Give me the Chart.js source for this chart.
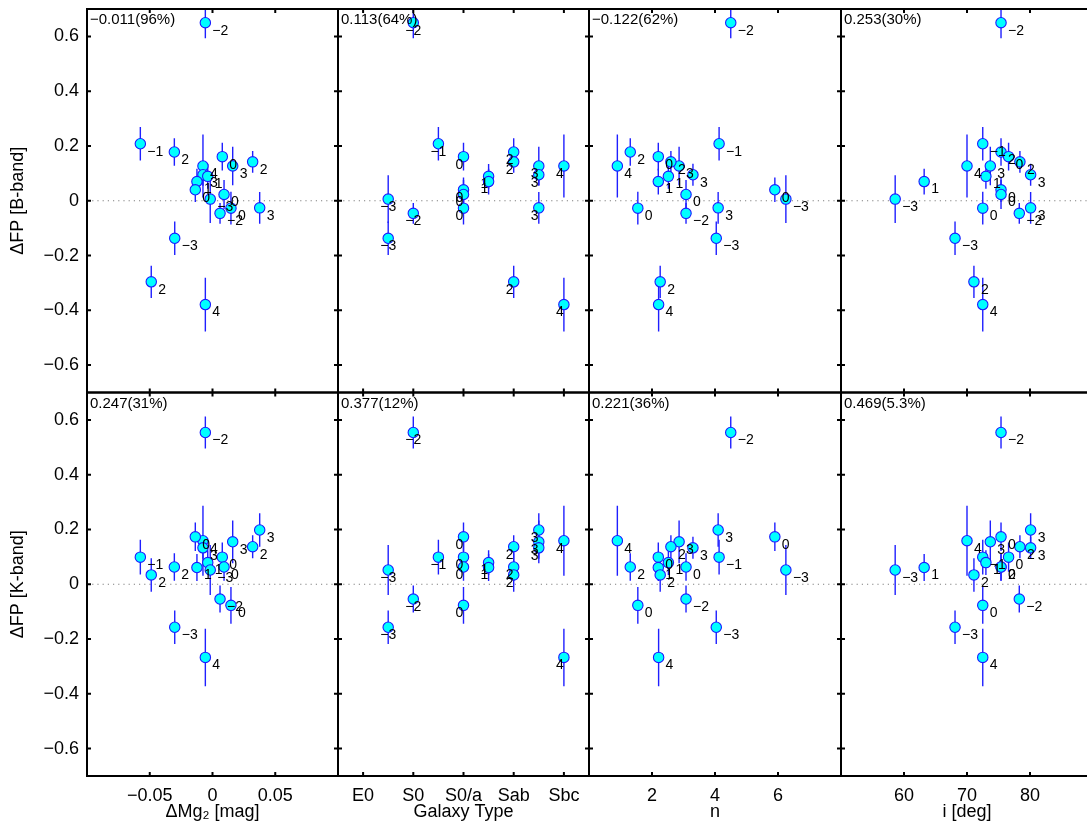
<!DOCTYPE html>
<html>
<head>
<meta charset="UTF-8">
<title>FP residuals vs galaxy properties</title>
<script src="https://cdn.jsdelivr.net/npm/chart.js"></script>
<style>
  html, body { margin: 0; padding: 0; background: #fff; overflow: hidden; }
  #wrap { position: relative; width: 1087px; height: 834px; overflow: hidden; }
  #wrap canvas { position: absolute; left: 0; top: 0; }
</style>
</head>
<body>
<div id="wrap"></div>
<script>
// one entry per galaxy (same order in every array)
const galaxyType  = [-2, -1, 2, 0, 3, 2, 4, 3, 1, 1, 0, -3, 0, -2, 0, 3, -3, 2, 4];
const deltaMg2    = [-0.0057, -0.0575, -0.0304, 0.0078, 0.0161, 0.032, -0.0076, -0.0076, -0.0038, -0.0124,
                     -0.0137, -0.0018, 0.0092, 0.006, 0.0147, 0.0376, -0.0301, -0.0488, -0.0057];
const sersicN     = [4.50, 4.13, 1.31, 2.20, 2.86, 2.60, 0.90, 3.30, 2.52, 2.20,
                     5.90, 6.25, 3.08, 3.08, 1.55, 4.10, 4.04, 2.26, 2.21];
const inclination = [75.4, 72.5, 75.4, 76.6, 73.7, 78.4, 70.0, 80.1, 73.0, 63.2,
                     75.4, 58.6, 75.4, 78.3, 72.5, 80.1, 68.1, 71.1, 72.5];
const dfpB = [0.650, 0.208, 0.178, 0.161, 0.127, 0.142, 0.127, 0.095, 0.089, 0.070,
              0.040, 0.006, 0.023, -0.046, -0.027, -0.026, -0.137, -0.296, -0.379];
const errB = [0.057, 0.061, 0.050, 0.051, 0.070, 0.040, 0.115, 0.040, 0.045, 0.047,
              0.045, 0.087, 0.053, 0.038, 0.060, 0.058, 0.061, 0.059, 0.098];
const dfpK = [0.554, 0.099, 0.063, 0.099, 0.155, 0.137, 0.159, 0.133, 0.079, 0.061,
              0.173, 0.052, 0.063, -0.054, -0.077, 0.198, -0.157, 0.034, -0.267];
const errK = [0.058, 0.063, 0.050, 0.053, 0.078, 0.042, 0.128, 0.040, 0.045, 0.049,
              0.052, 0.091, 0.050, 0.049, 0.067, 0.061, 0.061, 0.061, 0.105];

const typeTickValues = [-4, -2, 0, 2, 4];
const typeTickLabels = ['E0', 'S0', 'S0/a', 'Sab', 'Sbc'];
const mgTicks = [-0.05, 0, 0.05];
const nTicks = [2, 4, 6];
const inclTicks = [60, 70, 80];
const yTicks = [-0.6, -0.4, -0.2, 0, 0.2, 0.4, 0.6];

const statsB = ['\u22120.011(96%)', '0.113(64%)', '\u22120.122(62%)', '0.253(30%)'];
const statsK = ['0.247(31%)', '0.377(12%)', '0.221(36%)', '0.469(5.3%)'];

// layout of the 2x4 grid (pixels)
const COL_EDGES = [87, 338, 589, 841, 1093];
const ROW_EDGES = [9, 392.5, 776];
const CANVAS_W = 1100, CANVAS_H = 834;
const Y_AXIS_W = 87, X_AXIS_H = 50;
const FONT = '"Liberation Sans", Arial, Helvetica, sans-serif';

const minus = s => String(s).replace('-', '\u2212');

const columns = [
  { xs: deltaMg2, min: -0.1, max: 0.1, ticks: mgTicks, title: 'ΔMg₂ [mag]', labelDx: 7,
    fmt: v => v === 0 ? '0' : minus(v.toFixed(2)) },
  { xs: galaxyType, min: -5, max: 5, ticks: typeTickValues, title: 'Galaxy Type', labelDx: -8,
    fmt: v => typeTickLabels[typeTickValues.indexOf(v)] },
  { xs: sersicN, min: 0, max: 8, ticks: nTicks, title: 'n', labelDx: 7, fmt: v => String(v) },
  { xs: inclination, min: 50, max: 90, ticks: inclTicks, title: 'i [deg]', labelDx: 7, fmt: v => String(v) }
];
const rows = [
  { ys: dfpB, errs: errB, stats: statsB, title: 'ΔFP [B-band]' },
  { ys: dfpK, errs: errK, stats: statsK, title: 'ΔFP [K-band]' }
];

function makeDecor(col, row, stat) {
  return {
    id: 'panelDecor',
    beforeDatasetsDraw(chart) {
      const { ctx, chartArea: a, scales: { x, y } } = chart;
      ctx.save();
      ctx.beginPath();
      ctx.rect(a.left, a.top, a.right - a.left, a.bottom - a.top);
      ctx.clip();
      // dotted zero line
      const y0 = y.getPixelForValue(0);
      ctx.strokeStyle = '#808080';
      ctx.lineWidth = 1;
      ctx.setLineDash([1.2, 4]);
      ctx.beginPath();
      ctx.moveTo(a.left, y0);
      ctx.lineTo(a.right, y0);
      ctx.stroke();
      ctx.setLineDash([]);
      // error bars
      ctx.strokeStyle = '#1f1fff';
      ctx.lineWidth = 1.4;
      col.xs.forEach((xv, i) => {
        const px = x.getPixelForValue(xv);
        ctx.beginPath();
        ctx.moveTo(px, y.getPixelForValue(row.ys[i] - row.errs[i]));
        ctx.lineTo(px, y.getPixelForValue(row.ys[i] + row.errs[i]));
        ctx.stroke();
      });
      ctx.restore();
    },
    afterDatasetsDraw(chart) {
      const { ctx, chartArea: a, scales: { x, y } } = chart;
      ctx.save();
      // type labels next to each point
      ctx.fillStyle = '#000';
      ctx.font = '14px ' + FONT;
      ctx.textAlign = 'left';
      ctx.textBaseline = 'middle';
      col.xs.forEach((xv, i) => {
        const px = x.getPixelForValue(xv);
        const py = y.getPixelForValue(row.ys[i]);
        ctx.fillText(minus(galaxyType[i]), px + col.labelDx, py + 8);
      });
      // frame with inward ticks
      ctx.strokeStyle = '#000';
      ctx.lineWidth = 2;
      ctx.strokeRect(a.left, a.top, a.right - a.left, a.bottom - a.top);
      ctx.beginPath();
      col.ticks.forEach(v => {
        const px = x.getPixelForValue(v);
        ctx.moveTo(px, a.top); ctx.lineTo(px, a.top + 4);
        ctx.moveTo(px, a.bottom); ctx.lineTo(px, a.bottom - 4);
      });
      yTicks.forEach(v => {
        const py = y.getPixelForValue(v);
        ctx.moveTo(a.left, py); ctx.lineTo(a.left + 4, py);
        ctx.moveTo(a.right, py); ctx.lineTo(a.right - 4, py);
      });
      ctx.stroke();
      // correlation statistic
      ctx.font = '15px ' + FONT;
      ctx.textBaseline = 'middle';
      ctx.fillText(stat, a.left + 3, a.top + 11);
      ctx.restore();
    }
  };
}

const wrap = document.getElementById('wrap');

rows.forEach((row, r) => {
  columns.forEach((col, c) => {
    const canvas = document.createElement('canvas');
    canvas.width = CANVAS_W;
    canvas.height = CANVAS_H;
    wrap.appendChild(canvas);

    const showY = c === 0;
    const showX = r === 1;
    const left = COL_EDGES[c], right = COL_EDGES[c + 1];
    const top = ROW_EDGES[r], bottom = ROW_EDGES[r + 1];

    new Chart(canvas.getContext('2d'), {
      type: 'scatter',
      data: {
        datasets: [{
          data: col.xs.map((xv, i) => ({ x: xv, y: row.ys[i] })),
          pointRadius: 5.2,
          pointBackgroundColor: '#00ffff',
          pointBorderColor: '#1a1aff',
          pointBorderWidth: 1.1
        }]
      },
      options: {
        responsive: false,
        animation: false,
        events: [],
        layout: {
          padding: {
            left: showY ? left - Y_AXIS_W : left,
            right: CANVAS_W - right,
            top: top,
            bottom: showX ? CANVAS_H - bottom - X_AXIS_H : CANVAS_H - bottom
          }
        },
        plugins: { legend: { display: false }, tooltip: { enabled: false } },
        scales: {
          x: {
            type: 'linear',
            min: col.min,
            max: col.max,
            display: showX,
            afterBuildTicks: s => { s.ticks = col.ticks.map(v => ({ value: v })); },
            afterFit: s => {
              s.height = showX ? X_AXIS_H : 0;
              s.paddingLeft = 0;
              s.paddingRight = 0;
            },
            grid: { display: false, drawTicks: false },
            border: { display: false },
            ticks: {
              autoSkip: false, maxRotation: 0, padding: 9, color: '#000',
              font: { family: FONT, size: 18 },
              callback: v => col.fmt(v)
            },
            title: {
              display: true, text: col.title, color: '#000',
              font: { family: FONT, size: 18 }, padding: { top: 0, bottom: 3 }
            }
          },
          y: {
            type: 'linear',
            min: -0.7,
            max: 0.7,
            display: showY,
            afterBuildTicks: s => { s.ticks = yTicks.map(v => ({ value: v })); },
            afterFit: s => {
              s.width = showY ? Y_AXIS_W : 0;
              s.paddingTop = 0;
              s.paddingBottom = 0;
            },
            grid: { display: false, drawTicks: false },
            border: { display: false },
            ticks: {
              padding: 8, color: '#000',
              font: { family: FONT, size: 18 },
              callback: v => v === 0 ? '0' : minus(v.toFixed(1))
            },
            title: {
              display: true, text: row.title, color: '#000',
              font: { family: FONT, size: 18 }, padding: { top: 7, bottom: 0 }
            }
          }
        }
      },
      plugins: [makeDecor(col, row, row.stats[c])]
    });
  });
});
</script>
</body>
</html>
